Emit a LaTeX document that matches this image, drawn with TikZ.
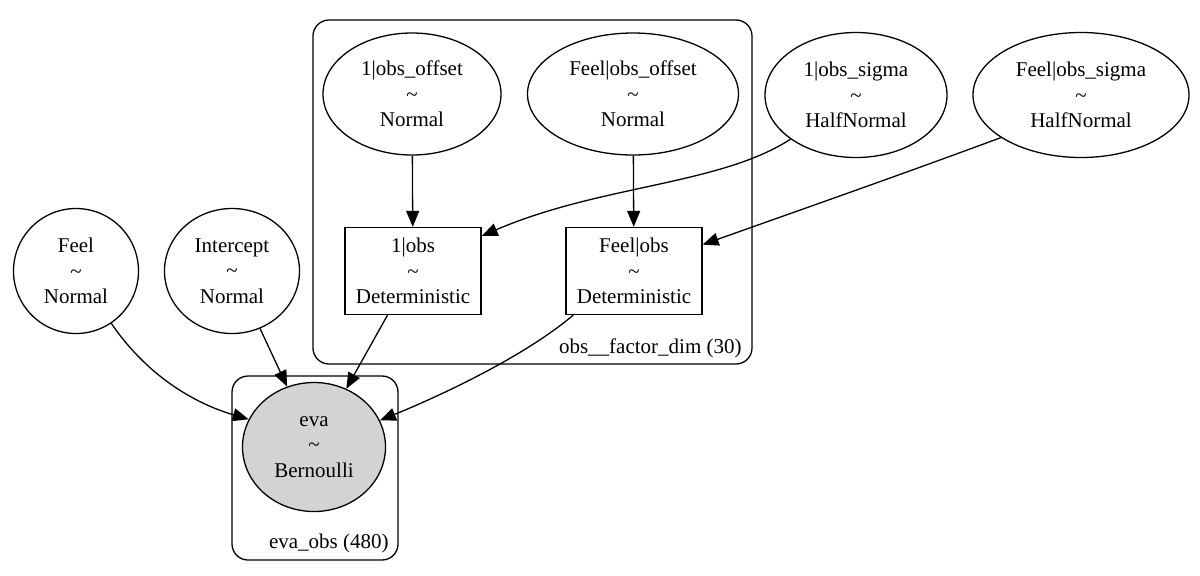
\documentclass[tikz,border=0pt]{standalone}
\usepackage{fontspec}
\setmainfont{Liberation Serif}
\usepackage{tikz}
\usetikzlibrary{arrows.meta, shapes.geometric}
\newcommand{\lblfont}{\fontsize{10.5}{12.8}\selectfont}

\begin{document}
\begin{tikzpicture}[x=0.5pt, y=-0.5pt,
    rv/.style={draw, ellipse, line width=0.65pt, inner sep=0pt, align=center, font=\lblfont},
    det/.style={draw, rectangle, line width=0.65pt, inner sep=0pt, align=center, font=\lblfont,
      minimum width=68pt, minimum height=43.5pt},
    obsd/.style={rv, fill={rgb,255:red,211;green,211;blue,211}},
    plate/.style={draw, line width=0.65pt, rounded corners=8pt},
    platelbl/.style={anchor=east, inner sep=0pt, font=\lblfont},
    edge/.style={line width=0.65pt, -{Triangle[length=8pt, width=6.5pt]}}]
  \useasboundingbox (0,0) rectangle (1200,575);
  % plates
  \draw[plate] (313,20) rectangle (752,364);
  \node[platelbl] (dimlbl) at (742,348) {obs\_\_factor\_dim (30)};
  \draw[plate] (232,376) rectangle (398,560);
  \node[platelbl] (obslbl) at (389,543) {eva\_obs (480)};
  % free variables
  \node[rv, minimum width=89pt, minimum height=61pt] (off1) at (412,94) {1|obs\_offset\\\textasciitilde\\Normal};
  \node[rv, minimum width=105.5pt, minimum height=61pt] (offf) at (633,94) {Feel|obs\_offset\\\textasciitilde\\Normal};
  \node[rv, minimum width=91pt, minimum height=62.5pt] (sig1) at (856,95) {1|obs\_sigma\\\textasciitilde\\HalfNormal};
  \node[rv, minimum width=108pt, minimum height=62.5pt] (sigf) at (1081,95) {Feel|obs\_sigma\\\textasciitilde\\HalfNormal};
  \node[rv, minimum width=62.5pt, minimum height=62.5pt] (feel) at (76,271) {Feel\\\textasciitilde\\Normal};
  \node[rv, minimum width=67.5pt, minimum height=62.5pt] (icpt) at (232,271) {Intercept\\\textasciitilde\\Normal};
  % deterministics
  \node[det] (obs1) at (413,271) {1|obs\\\textasciitilde\\Deterministic};
  \node[det] (obsf) at (634,271) {Feel|obs\\\textasciitilde\\Deterministic};
  % observed
  \node[obsd, minimum width=71.5pt, minimum height=64.5pt] (eva) at (314,447) {eva\\\textasciitilde\\Bernoulli};
  % edges
  \draw[edge] (off1) -- (obs1);
  \draw[edge] (offf) -- (obsf);
  \draw[edge] (sig1.214) .. controls (720,185) and (600,185) .. (obs1.27);
  \draw[edge] (sigf.208) .. controls (900,175) and (800,210) .. (obsf.21);
  \draw[edge] (feel.-56) .. controls (150,380) and (200,405) .. (eva.157);
  \draw[edge] (icpt.-64) -- (eva.114);
  \draw[edge] (obs1.240) -- (eva.61);
  \draw[edge] (obsf.216) .. controls (520,360) and (430,400) .. (eva.22);
\end{tikzpicture}
\end{document}
